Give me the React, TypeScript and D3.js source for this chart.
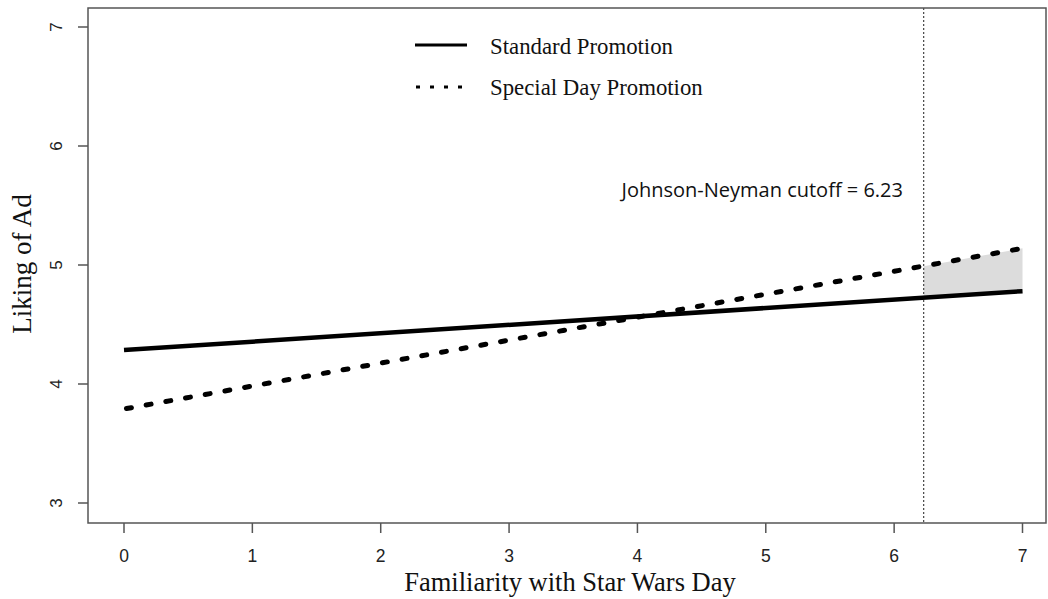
import React, { useEffect, useRef } from "react";
import * as d3 from "d3";

// values
const xEnds = [0, 7];
const standardValues = [4.285, 4.78];
const specialValues = [3.79, 5.14];
const shadeX = [6.23, 7];
const shadeLow = [4.725, 4.78];
const shadeHigh = [4.99, 5.14];
const cutoff = 6.23;
const xTicks = [0, 1, 2, 3, 4, 5, 6, 7];
const yTicks = [3, 4, 5, 6, 7];
const legendLabels = ["Standard Promotion", "Special Day Promotion"];

const drawChart = (svgEl: SVGSVGElement) => {
  const width = 1048;
  const height = 599;
  const box = { left: 88, right: 1046, top: 8, bottom: 523 };

  const svg = d3.select(svgEl);
  svg.selectAll("*").remove();

  const xScale = d3.scaleLinear().domain([0, 7]).range([124, 1022.5]);
  const yScale = d3.scaleLinear().domain([3, 7]).range([503, 27]);

  // shaded region past the cutoff
  const area = d3
    .area<number>()
    .x((d) => xScale(d))
    .y0((d, i) => yScale(shadeLow[i]))
    .y1((d, i) => yScale(shadeHigh[i]));
  svg.append("path").attr("d", area(shadeX)).attr("fill", "#dcdcdc");

  // Johnson-Neyman vertical line
  svg
    .append("line")
    .attr("x1", xScale(cutoff))
    .attr("x2", xScale(cutoff))
    .attr("y1", box.top)
    .attr("y2", box.bottom)
    .attr("stroke", "#444")
    .attr("stroke-width", 1.2)
    .attr("stroke-dasharray", "2 2");

  const line = d3
    .line<number>()
    .x((d) => xScale(d));

  // standard promotion
  svg
    .append("path")
    .attr("d", line.y((d, i) => yScale(standardValues[i]))(xEnds))
    .attr("fill", "none")
    .attr("stroke", "#000")
    .attr("stroke-width", 4.5);

  // special day promotion
  svg
    .append("path")
    .attr("d", line.y((d, i) => yScale(specialValues[i]))(xEnds))
    .attr("fill", "none")
    .attr("stroke", "#000")
    .attr("stroke-width", 5)
    .attr("stroke-linecap", "round")
    .attr("stroke-dasharray", "5 15")
    .attr("stroke-dashoffset", -2.5);

  // frame
  svg
    .append("rect")
    .attr("x", box.left)
    .attr("y", box.top)
    .attr("width", box.right - box.left)
    .attr("height", box.bottom - box.top)
    .attr("fill", "none")
    .attr("stroke", "#555")
    .attr("stroke-width", 1.5);

  // x axis ticks
  const xg = svg.append("g");
  xTicks.forEach((t) => {
    xg.append("line")
      .attr("x1", xScale(t))
      .attr("x2", xScale(t))
      .attr("y1", box.bottom)
      .attr("y2", box.bottom + 10)
      .attr("stroke", "#555")
      .attr("stroke-width", 1.5);
    xg.append("text")
      .attr("x", xScale(t))
      .attr("y", 562)
      .attr("text-anchor", "middle")
      .style("font-family", "Liberation Sans, Arial, sans-serif")
      .style("font-size", "17.5px")
      .attr("fill", "#222")
      .text(t);
  });

  // y axis ticks
  const yg = svg.append("g");
  yTicks.forEach((t) => {
    yg.append("line")
      .attr("x1", box.left - 10)
      .attr("x2", box.left)
      .attr("y1", yScale(t))
      .attr("y2", yScale(t))
      .attr("stroke", "#555")
      .attr("stroke-width", 1.5);
    yg.append("text")
      .attr("transform", `translate(62, ${yScale(t)}) rotate(-90)`)
      .attr("text-anchor", "middle")
      .style("font-family", "Liberation Sans, Arial, sans-serif")
      .style("font-size", "17px")
      .attr("fill", "#222")
      .text(t);
  });

  // axis titles
  svg
    .append("text")
    .attr("x", 570)
    .attr("y", 591)
    .attr("text-anchor", "middle")
    .style("font-family", "Liberation Serif, Times New Roman, serif")
    .style("font-size", "26.5px")
    .attr("fill", "#111")
    .text("Familiarity with Star Wars Day");

  svg
    .append("text")
    .attr("transform", `translate(31, 264) rotate(-90)`)
    .attr("text-anchor", "middle")
    .style("font-family", "Liberation Serif, Times New Roman, serif")
    .style("font-size", "27px")
    .attr("fill", "#111")
    .text("Liking of Ad");

  // legend
  const legend = svg.append("g");
  legend
    .append("line")
    .attr("x1", 415)
    .attr("x2", 467)
    .attr("y1", 45)
    .attr("y2", 45)
    .attr("stroke", "#000")
    .attr("stroke-width", 3);
  legend
    .append("line")
    .attr("x1", 416)
    .attr("x2", 462)
    .attr("y1", 87)
    .attr("y2", 87)
    .attr("stroke", "#000")
    .attr("stroke-width", 3)
    .attr("stroke-dasharray", "4 10");
  legendLabels.forEach((label, i) => {
    legend
      .append("text")
      .attr("x", 490)
      .attr("y", 53.5 + i * 41)
      .style("font-family", "Liberation Serif, Times New Roman, serif")
      .style("font-size", "22.8px")
      .attr("fill", "#111")
      .text(label);
  });

  // annotation
  svg
    .append("text")
    .attr("x", 903)
    .attr("y", 197)
    .attr("text-anchor", "end")
    .style("font-family", "Open Sans, sans-serif")
    .style("font-size", "20px")
    .attr("fill", "#111")
    .text(`Johnson-Neyman cutoff = ${cutoff}`);

  svg.attr("width", width).attr("height", height);
};

const App = () => {
  const svgRef = useRef<SVGSVGElement>(null);

  useEffect(() => {
    if (svgRef.current) drawChart(svgRef.current);
  }, []);

  return (
    <svg
      ref={svgRef}
      width="1048"
      height="599"
      style={{ position: "absolute", left: 0, top: 0, background: "#fff" }}
    ></svg>
  );
};

export default App;
